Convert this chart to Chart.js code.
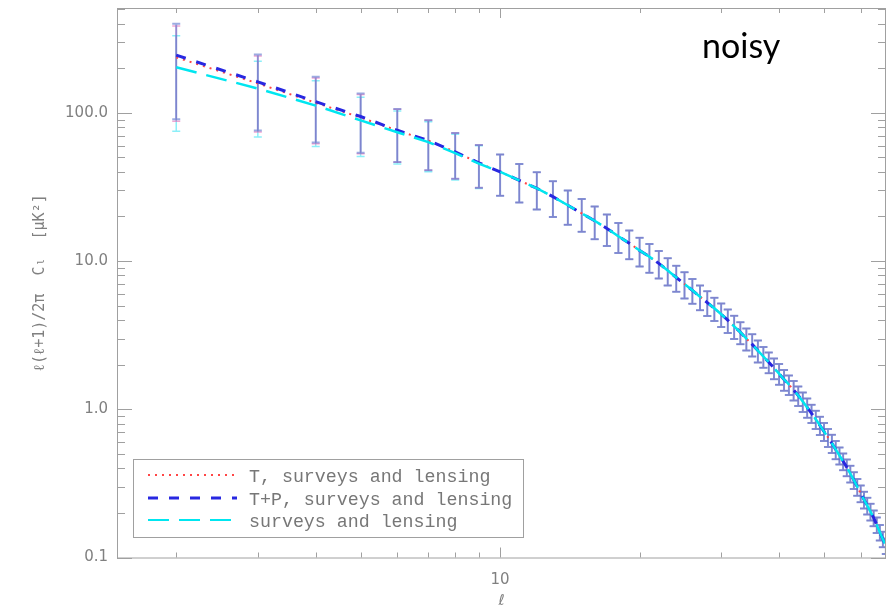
<!DOCTYPE html>
<html>
<head>
<meta charset="utf-8">
<script src="https://cdn.jsdelivr.net/npm/chart.js@4"></script>
<style>
  body { margin: 0; background: #fff; }
  #wrap { position: relative; width: 887px; height: 610px; }
  #overlay { position: absolute; left: 0; top: 0; pointer-events: none; }
</style>
</head>
<body>
<div id="wrap">
  <canvas id="clChart" width="887" height="610"></canvas>
  <svg id="overlay" width="887" height="610">
    <text x="702" y="58" font-family="Lato" font-size="34" fill="#000">noisy</text>
    <rect x="133.5" y="459.5" width="390" height="78" fill="#fff" stroke="#a0a0a0" stroke-width="1"></rect>
    <line x1="148" y1="475" x2="237" y2="475" stroke="rgb(255,70,70)" stroke-width="2" stroke-dasharray="2,5"></line>
    <line x1="148" y1="498" x2="237" y2="498" stroke="rgb(40,40,225)" stroke-width="3" stroke-dasharray="10,11"></line>
    <line x1="148" y1="520" x2="237" y2="520" stroke="rgb(0,230,240)" stroke-width="2" stroke-dasharray="21,10"></line>
    <text x="249" y="482" font-family="Liberation Mono" font-size="18.3" fill="#777">T, surveys and lensing</text>
    <text x="249" y="505" font-family="Liberation Mono" font-size="18.3" fill="#777">T+P, surveys and lensing</text>
    <text x="249" y="527" font-family="Liberation Mono" font-size="18.3" fill="#777">surveys and lensing</text>
  </svg>
</div>
<script>
// multipoles
var ells = [2,3,4,5,6,7,8,9,10,11,12,13,14,15,16,17,18,19,20,21,22,23,24,25,26,27,28,29,30,
  31,32,33,34,35,36,37,38,39,40,41,42,43,44,45,46,47,48,49,50,51,52,53,54,55,56,57,58,59,60,
  61,62,63,64,65,66,67,68];

// T, surveys and lensing (red dotted)
var tLensing = [237,158,117,93,76,65,54.5,46,40,35,31,27.2,23.8,21.0,18.7,16.6,14.7,13.2,11.8,10.7,
  9.65,8.65,7.75,7.0,6.35,5.75,5.25,4.8,4.38,3.99,3.63,3.31,3.0,2.74,2.49,2.27,2.08,1.9,1.74,1.59,
  1.47,1.35,1.24,1.13,1.03,0.94,0.856,0.78,0.71,0.647,0.59,0.536,0.488,0.446,0.406,0.368,0.333,0.3,
  0.271,0.246,0.224,0.204,0.185,0.166,0.148,0.133,0.12];

// T+P, surveys and lensing (blue dashed)
var tpLensing = [245,162,119,94.5,76.3,65,54.5,46,40,35,31,27.2,23.8,21.0,18.7,16.6,14.7,13.2,11.8,10.7,
  9.65,8.65,7.75,7.0,6.35,5.75,5.25,4.8,4.38,3.99,3.63,3.31,3.0,2.74,2.49,2.27,2.08,1.9,1.74,1.59,
  1.47,1.35,1.24,1.13,1.03,0.94,0.856,0.78,0.71,0.647,0.59,0.536,0.488,0.446,0.406,0.368,0.333,0.3,
  0.271,0.246,0.224,0.204,0.185,0.166,0.148,0.133,0.12];

// surveys and lensing (cyan long dash)
var lensingOnly = [203,146,112,89,74,63.5,53.5,45.5,40,35,31,27.2,23.8,21.0,18.7,16.6,14.7,13.2,11.8,10.7,
  9.65,8.65,7.75,7.0,6.35,5.75,5.25,4.8,4.38,3.99,3.63,3.31,3.0,2.74,2.49,2.27,2.08,1.9,1.74,1.59,
  1.47,1.35,1.24,1.13,1.03,0.94,0.856,0.78,0.71,0.647,0.59,0.536,0.488,0.446,0.406,0.368,0.333,0.3,
  0.271,0.246,0.224,0.204,0.185,0.166,0.148,0.133,0.12];

// relative error bar half size
var relErr = [0.63,0.53,0.47,0.43,0.39,0.37,0.34,0.32,0.31,0.29,0.28,0.27,0.26,0.25,0.25,0.24,0.23,
  0.22,0.22,0.22,0.21,0.21,0.20,0.20,0.19,0.19,0.19,0.18,0.18,0.18,0.18,0.17,0.17,0.17,0.17,0.16,
  0.16,0.16,0.16,0.16,0.15,0.15,0.15,0.15,0.15,0.14,0.14,0.14,0.14,0.14,0.14,0.14,0.13,0.13,0.13,
  0.13,0.13,0.13,0.13,0.13,0.13,0.13,0.12,0.12,0.12,0.12,0.12];

// axis ticks
var xLabelTicks = [10];
var xTickLabels = ["10"];
var xMinorTicks = [2,3,4,5,6,7,8,9,20,30,40,50,60];
var yLabelTicks = [0.1,1,10,100];
var yTickLabels = ["0.1","1.0","10.0","100.0"];
var yMinorTicks = [0.2,0.3,0.4,0.5,0.6,0.7,0.8,0.9,2,3,4,5,6,7,8,9,20,30,40,50,60,70,80,90,200,300,400,500];

function toPoints(vals) {
  var pts = [];
  for (var i = 0; i < ells.length; i++) pts.push({x: ells[i], y: vals[i]});
  return pts;
}

var errColors = ["rgba(0,220,240,0.45)", "rgba(225,80,170,0.5)", "rgba(90,115,205,0.6)"];
var errSeries = [lensingOnly, tLensing, tpLensing];

var errorBars = {
  id: 'errorBars',
  beforeDatasetsDraw: function(chart) {
    var ctx = chart.ctx, xs = chart.scales.x, ys = chart.scales.y, a = chart.chartArea;
    ctx.save();
    ctx.beginPath();
    ctx.rect(a.left, a.top, a.right - a.left, a.bottom - a.top);
    ctx.clip();
    for (var s = 0; s < errSeries.length; s++) {
      ctx.strokeStyle = errColors[s];
      ctx.lineWidth = s == 2 ? 2 : 1.5;
      for (var i = 0; i < ells.length; i++) {
        var v = errSeries[s][i];
        var px = xs.getPixelForValue(ells[i]);
        var top = ys.getPixelForValue(v * (1 + relErr[i]));
        var bot = ys.getPixelForValue(v * (1 - relErr[i]));
        ctx.beginPath();
        ctx.moveTo(px, top); ctx.lineTo(px, bot);
        ctx.moveTo(px - 4, top); ctx.lineTo(px + 4, top);
        ctx.moveTo(px - 4, bot); ctx.lineTo(px + 4, bot);
        ctx.stroke();
      }
    }
    ctx.restore();
  }
};

// box round the plot with ticks pointing inwards on all four sides
var frameTicks = {
  id: 'frameTicks',
  afterDraw: function(chart) {
    var ctx = chart.ctx, xs = chart.scales.x, ys = chart.scales.y, a = chart.chartArea;
    ctx.save();
    ctx.strokeStyle = "#a0a0a0";
    ctx.lineWidth = 1;
    ctx.strokeRect(a.left + 0.5, a.top + 0.5, a.right - a.left - 1, a.bottom - a.top);
    ctx.beginPath();
    var drawX = function(list, len) {
      list.forEach(function(v) {
        var px = Math.round(xs.getPixelForValue(v)) + 0.5;
        ctx.moveTo(px, a.bottom); ctx.lineTo(px, a.bottom - len);
        ctx.moveTo(px, a.top); ctx.lineTo(px, a.top + len);
      });
    };
    var drawY = function(list, len) {
      list.forEach(function(v) {
        var py = Math.round(ys.getPixelForValue(v)) + 0.5;
        ctx.moveTo(a.left, py); ctx.lineTo(a.left + len, py);
        ctx.moveTo(a.right, py); ctx.lineTo(a.right - len, py);
      });
    };
    drawX(xLabelTicks, 10);
    drawX(xMinorTicks, 5);
    drawY(yLabelTicks, 15);
    drawY(yMinorTicks, 8);
    ctx.stroke();
    ctx.restore();
  }
};

var ctx = document.getElementById("clChart").getContext("2d");
window.clChart = new Chart(ctx, {
  type: 'line',
  data: {
    datasets: [
      {label: 'T, surveys and lensing', data: toPoints(tLensing), borderColor: 'rgb(255,70,70)',
       borderWidth: 2, borderDash: [2,5], pointRadius: 0, fill: false, tension: 0, order: 2},
      {label: 'T+P, surveys and lensing', data: toPoints(tpLensing), borderColor: 'rgb(40,40,225)',
       borderWidth: 3, borderDash: [10,11], pointRadius: 0, fill: false, tension: 0, order: 1},
      {label: 'surveys and lensing', data: toPoints(lensingOnly), borderColor: 'rgb(0,230,240)',
       borderWidth: 2.5, borderDash: [21,10], pointRadius: 0, fill: false, tension: 0, order: 0}
    ]
  },
  options: {
    responsive: false,
    animation: false,
    layout: {padding: {top: 8, right: 1, left: 0, bottom: 0}},
    plugins: {legend: {display: false}, tooltip: {enabled: false}},
    scales: {
      x: {
        type: 'logarithmic', min: 1.49, max: 68.05,
        grid: {display: false, drawTicks: false}, border: {display: false},
        afterBuildTicks: function(scale) { scale.ticks = xLabelTicks.map(function(v) { return {value: v}; }); },
        afterFit: function(scale) { scale.height = 52.5; scale.paddingLeft = 0; scale.paddingRight = 0; },
        ticks: {autoSkip: false, maxRotation: 0, padding: 14, color: '#808080',
          font: {family: 'DejaVu Sans', size: 15},
          callback: function(v, i) { return xTickLabels[i]; }},
        title: {display: true, text: 'ℓ', color: '#808080', font: {family: 'DejaVu Sans', size: 15, style: 'italic'},
          padding: {top: 0, bottom: 0}}
      },
      y: {
        type: 'logarithmic', min: 0.1, max: 510,
        grid: {display: false, drawTicks: false}, border: {display: false},
        afterBuildTicks: function(scale) { scale.ticks = yLabelTicks.map(function(v) { return {value: v}; }); },
        afterFit: function(scale) { scale.width = 117; scale.paddingTop = 0; scale.paddingBottom = 0; },
        ticks: {autoSkip: false, padding: 9, color: '#808080',
          font: {family: 'DejaVu Sans', size: 15},
          callback: function(v, i) { return yTickLabels[i]; }},
        title: {display: true, text: 'ℓ(ℓ+1)/2π  Cₗ  [μK²]', color: '#808080',
          font: {family: 'DejaVu Sans Mono', size: 15}, padding: {top: 31, bottom: 0}}
      }
    }
  },
  plugins: [errorBars, frameTicks]
});
</script>
</body>
</html>
